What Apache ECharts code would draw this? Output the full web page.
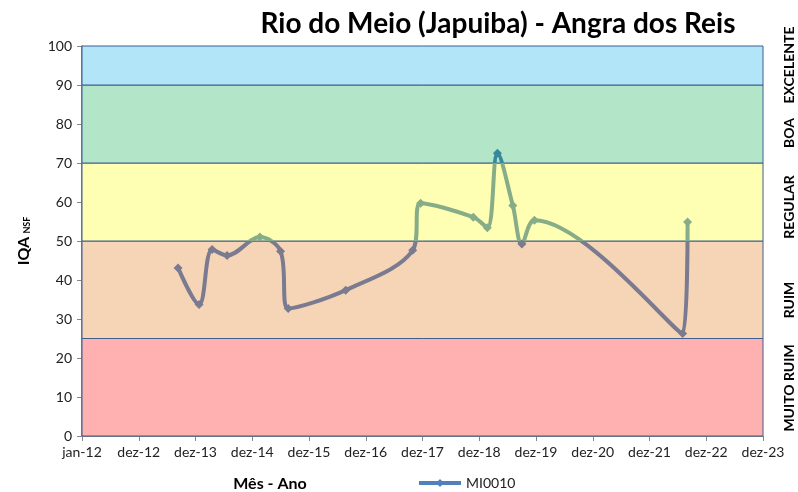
<!DOCTYPE html>
<html>
<head>
<meta charset="utf-8">
<script src="https://cdn.jsdelivr.net/npm/echarts@6/dist/echarts.min.js"></script>
<style>
  html, body { margin: 0; padding: 0; background: #fff; }
  #main { width: 798px; height: 492px; }
</style>
</head>
<body>
<div id="main"></div>
<script>
// datas das coletas e valores do IQA
const dates = ['2013-09-10', '2014-01-23', '2014-04-17', '2014-07-22', '2015-02-18', '2015-07-01',
  '2015-08-19', '2016-08-23', '2017-10-28', '2017-12-18', '2018-11-22', '2019-02-20',
  '2019-04-26', '2019-08-03', '2019-09-30', '2019-12-20', '2022-07-30', '2022-08-31'];
const iqa = [43.1, 33.7, 47.8, 46.3, 51.0, 47.4, 32.7, 37.4, 47.6, 59.7, 56.1, 53.4,
  72.5, 59.1, 49.2, 55.3, 26.3, 54.9];
const seriesName = 'MI0010';
const bandLimits = [0, 25, 50, 70, 90, 100];
const bandNames = ['MUITO RUIM', 'RUIM', 'REGULAR', 'BOA', 'EXCELENTE'];
const monthNames = ['jan', 'fev', 'mar', 'abr', 'mai', 'jun', 'jul', 'ago', 'set', 'out', 'nov', 'dez'];

const DAY = 86400000;
const base = Date.UTC(2012, 0, 1);
const toDays = (s) => (Date.parse(s + 'T00:00:00Z') - base) / DAY;

const bandColors = ['#FFB0B0', '#F6D5B6', '#FFFFB3', '#B3E6C9', '#B3E5F8'];
const font = 'Lato';

const chart = echarts.init(document.getElementById('main'));

const areas = bandColors.map((c, i) => [
  { yAxis: bandLimits[i], itemStyle: { color: c, borderColor: '#3D5F8F', borderWidth: 1 } },
  { yAxis: bandLimits[i + 1] }
]);

// rotulos das faixas na direita
const bandLabelY = [388, 300, 207, 133, 65];
const bandGraphics = bandNames.map((t, i) => ({
  type: 'text',
  x: 789,
  y: bandLabelY[i],
  rotation: Math.PI / 2,
  style: {
    text: t, fill: '#000', font: 'bold 14px Lato',
    textAlign: 'center', textVerticalAlign: 'middle'
  }
}));

chart.setOption({
  animation: false,
  title: {
    text: 'Rio do Meio (Japuiba) - Angra dos Reis',
    left: 493, top: 5,
    textAlign: 'center',
    textStyle: { fontFamily: font, fontWeight: 'bold', fontSize: 28, color: '#000' }
  },
  grid: { left: 82, right: 35, top: 46, bottom: 56 },
  legend: {
    left: 412, top: 471,
    itemWidth: 42, itemHeight: 10,
    textStyle: { fontFamily: font, fontSize: 14, color: '#222' },
    data: [{
      name: seriesName,
      itemStyle: { color: '#4F81BD' },
      lineStyle: { color: '#4F81BD', width: 4 }
    }]
  },
  visualMap: {
    show: false,
    type: 'piecewise',
    dimension: 1,
    seriesIndex: 0,
    pieces: [
      { lt: 50, color: '#7A7A90' },
      { gte: 50, lt: 70, color: '#86AC88' },
      { gte: 70, color: '#35899B' }
    ]
  },
  xAxis: {
    type: 'value',
    min: 0, max: 4380, interval: 365,
    axisLine: { lineStyle: { color: '#868686' } },
    axisTick: { show: true, length: 5, lineStyle: { color: '#868686' } },
    splitLine: { show: false },
    axisLabel: {
      fontFamily: font, fontSize: 14, color: '#222', margin: 9,
      formatter: (v) => {
        const d = new Date(base + v * DAY);
        return monthNames[d.getUTCMonth()] + '-' + String(d.getUTCFullYear()).slice(2);
      }
    }
  },
  yAxis: {
    type: 'value',
    min: 0, max: 100, interval: 10,
    name: '{a|IQA} {b|NSF}',
    nameLocation: 'middle',
    nameGap: 50,
    nameRotate: 90,
    nameTextStyle: {
      rich: {
        a: { fontFamily: font, fontWeight: 'bold', fontSize: 16, color: '#000' },
        b: { fontFamily: font, fontWeight: 'bold', fontSize: 9, color: '#000', padding: [6, 0, 0, 0] }
      }
    },
    axisLine: { show: true, lineStyle: { color: '#4A6C9B', width: 1.5 } },
    axisTick: { show: true, length: 5, lineStyle: { color: '#868686' } },
    splitLine: { show: false },
    axisLabel: { fontFamily: font, fontSize: 14, color: '#222', margin: 10 }
  },
  graphic: [
    {
      type: 'text', x: 270, y: 484,
      style: {
        text: 'Mês - Ano', fill: '#000', font: 'bold 16px Lato',
        textAlign: 'center', textVerticalAlign: 'middle'
      }
    }
  ].concat(bandGraphics),
  series: [
    {
      name: seriesName,
      type: 'line',
      z: 5,
      smooth: 0.35,
      symbol: 'diamond',
      symbolSize: 9,
      lineStyle: { width: 4 },
      data: dates.map((d, i) => [toDays(d), iqa[i]])
    },
    {
      name: 'faixas',
      type: 'line',
      z: 1,
      silent: true,
      data: [],
      markArea: { silent: true, data: areas }
    }
  ]
});
</script>
</body>
</html>
